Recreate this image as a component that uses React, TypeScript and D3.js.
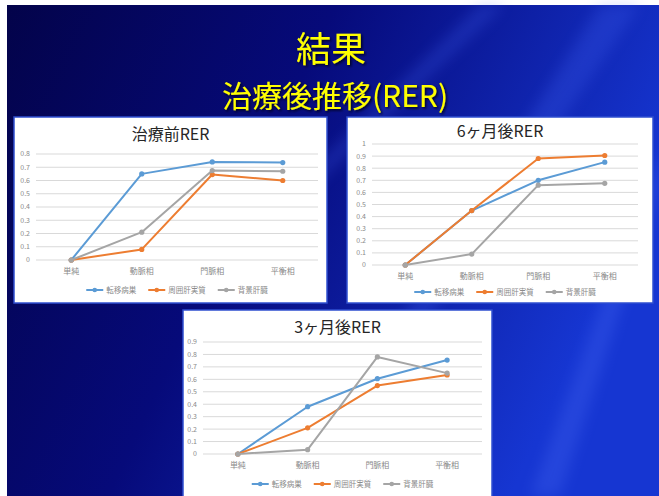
import React from "react";
import * as d3 from "d3";

// CT phases on the x axis and the three measured regions
const CATEGORIES = ["単純", "動脈相", "門脈相", "平衡相"];
const SERIES_NAMES = ["転移病巣", "周囲肝実質", "背景肝臓"];
const SERIES_COLORS = ["#5b9bd5", "#ed7d31", "#a5a5a5"];

// RER before treatment
const PRE_METASTASIS = [0, 0.65, 0.74, 0.735];
const PRE_SURROUNDING = [0, 0.08, 0.645, 0.6];
const PRE_BACKGROUND = [0, 0.21, 0.675, 0.67];

// RER 6 months after treatment
const M6_METASTASIS = [0, 0.45, 0.7, 0.85];
const M6_SURROUNDING = [0, 0.45, 0.88, 0.905];
const M6_BACKGROUND = [0, 0.09, 0.66, 0.675];

// RER 3 months after treatment
const M3_METASTASIS = [0, 0.38, 0.605, 0.755];
const M3_SURROUNDING = [0, 0.21, 0.55, 0.635];
const M3_BACKGROUND = [0, 0.035, 0.78, 0.65];

const PRE_TICKS = [0, 0.1, 0.2, 0.3, 0.4, 0.5, 0.6, 0.7, 0.8];
const M6_TICKS = [0, 0.1, 0.2, 0.3, 0.4, 0.5, 0.6, 0.7, 0.8, 0.9, 1];
const M3_TICKS = [0, 0.1, 0.2, 0.3, 0.4, 0.5, 0.6, 0.7, 0.8, 0.9];

const FONT = "'Noto Sans CJK JP', 'Noto Sans', sans-serif";

type PanelProps = {
  box: { x: number; y: number; w: number; h: number };
  plot: { left: number; right: number; top: number; bottom: number };
  title: string;
  titleY: number;
  ticks: number[];
  series: number[][];
  catY: number;
  legendY: number;
};

function Panel({ box, plot, title, titleY, ticks, series, catY, legendY }: PanelProps) {
  const x = d3.scalePoint<string>().domain(CATEGORIES).range([plot.left, plot.right]).padding(0.5);
  const y = d3
    .scaleLinear()
    .domain([0, ticks[ticks.length - 1]])
    .range([plot.bottom, plot.top]);
  const line = d3
    .line<number>()
    .x((_, i) => x(CATEGORIES[i]) as number)
    .y((v) => y(v));

  const cx = box.x + box.w / 2;
  // legend layout: marker line + label per series, centred under the plot
  const legendFont = 7.5;
  const itemWidths = SERIES_NAMES.map((n) => 17 + 3 + n.length * legendFont + 12);
  const legendTotal = d3.sum(itemWidths) - 12;
  let lx = (plot.left + plot.right) / 2 - legendTotal / 2;
  const legendItems = SERIES_NAMES.map((n, i) => {
    const start = lx;
    lx += itemWidths[i];
    return { name: n, start, color: SERIES_COLORS[i] };
  });

  return (
    <g>
      <rect x={box.x} y={box.y} width={box.w} height={box.h} fill="#ffffff" stroke="#2f4fd0" strokeWidth={1.5} />
      <text x={cx} y={titleY} textAnchor="middle" fontFamily={FONT} fontSize={16} fill="#262626">
        {title}
      </text>
      {ticks.map((t) => (
        <g key={t}>
          <line x1={plot.left} x2={plot.right} y1={y(t)} y2={y(t)} stroke="#d9d9d9" strokeWidth={1} />
          <text
            x={plot.left - 6}
            y={y(t)}
            dy="0.35em"
            textAnchor="end"
            fontFamily={FONT}
            fontSize={7}
            fill="#8a8a8a"
          >
            {t}
          </text>
        </g>
      ))}
      {CATEGORIES.map((c) => (
        <text key={c} x={x(c)} y={catY} textAnchor="middle" fontFamily={FONT} fontSize={8} fill="#8a8a8a">
          {c}
        </text>
      ))}
      {series.map((vals, i) => (
        <g key={i}>
          <path d={line(vals) || ""} fill="none" stroke={SERIES_COLORS[i]} strokeWidth={2} strokeLinejoin="round" />
          {vals.map((v, j) => (
            <circle key={j} cx={x(CATEGORIES[j])} cy={y(v)} r={2.6} fill={SERIES_COLORS[i]} />
          ))}
        </g>
      ))}
      {legendItems.map((it) => (
        <g key={it.name}>
          <line x1={it.start} x2={it.start + 17} y1={legendY} y2={legendY} stroke={it.color} strokeWidth={2} />
          <circle cx={it.start + 8.5} cy={legendY} r={2.3} fill={it.color} />
          <text
            x={it.start + 20}
            y={legendY}
            dy="0.35em"
            fontFamily={FONT}
            fontSize={legendFont}
            fill="#8a8a8a"
          >
            {it.name}
          </text>
        </g>
      ))}
    </g>
  );
}

export default function App() {
  const W = 659;
  const H = 496;
  return (
    <svg
      width={W}
      height={H}
      viewBox={`0 0 ${W} ${H}`}
      style={{ position: "fixed", left: 0, top: 0, display: "block" }}
    >
      <defs>
        <linearGradient id="slideBg" x1="0" y1="0" x2="1" y2="0.35">
          <stop offset="0" stopColor="#03034a" />
          <stop offset="0.45" stopColor="#060a7a" />
          <stop offset="1" stopColor="#1636d2" />
        </linearGradient>
        <filter id="streakBlur" x="-20%" y="-20%" width="140%" height="140%">
          <feGaussianBlur stdDeviation="7" />
        </filter>
        <filter id="titleShadow" x="-10%" y="-10%" width="120%" height="130%">
          <feDropShadow dx="1.5" dy="1.5" stdDeviation="0.8" floodColor="#000018" floodOpacity="0.9" />
        </filter>
      </defs>
      <rect x={0} y={0} width={W} height={H} fill="#ffffff" />
      <rect x={7} y={5} width={W - 7} height={H - 5} fill="url(#slideBg)" />
      {/* soft light streaks across the slide background */}
      <g filter="url(#streakBlur)" opacity={0.22}>
        <polygon points="480,5 505,5 300,200 280,200" fill="#4a6cff" />
        <polygon points="600,5 640,5 420,330 395,330" fill="#4a6cff" />
        <polygon points="659,150 659,190 560,496 530,496" fill="#5a7cff" />
      </g>
      <g filter="url(#titleShadow)">
        <text x={331} y={62} textAnchor="middle" fontFamily={FONT} fontSize={35} fill="#ffff00">
          結果
        </text>
        <text x={335} y={107} textAnchor="middle" fontFamily={FONT} fontSize={30} fill="#ffff00">
          治療後推移(RER)
        </text>
      </g>

      <Panel
        box={{ x: 14, y: 117, w: 313, h: 186 }}
        plot={{ left: 36, right: 318, top: 154, bottom: 260 }}
        title="治療前RER"
        titleY={140}
        ticks={PRE_TICKS}
        series={[PRE_METASTASIS, PRE_SURROUNDING, PRE_BACKGROUND]}
        catY={274}
        legendY={290}
      />
      <Panel
        box={{ x: 347, y: 117, w: 306, h: 186 }}
        plot={{ left: 372, right: 638, top: 144, bottom: 265 }}
        title="6ヶ月後RER"
        titleY={137}
        ticks={M6_TICKS}
        series={[M6_METASTASIS, M6_SURROUNDING, M6_BACKGROUND]}
        catY={279}
        legendY={292}
      />
      <Panel
        box={{ x: 183, y: 310, w: 309, h: 192 }}
        plot={{ left: 203, right: 482, top: 342, bottom: 454 }}
        title="3ヶ月後RER"
        titleY={333}
        ticks={M3_TICKS}
        series={[M3_METASTASIS, M3_SURROUNDING, M3_BACKGROUND]}
        catY={468}
        legendY={484}
      />
    </svg>
  );
}
